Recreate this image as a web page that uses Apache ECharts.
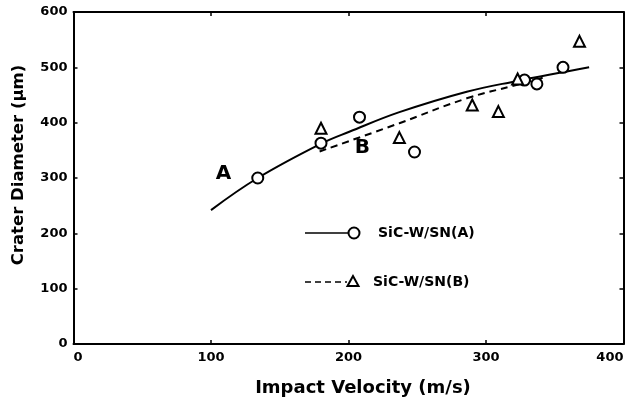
<!DOCTYPE html>
<html><head><meta charset="utf-8">
<script src="https://cdn.jsdelivr.net/npm/echarts@6/dist/echarts.min.js"></script>
<style>html,body{margin:0;padding:0;background:#fff}#c{width:627px;height:400px}</style>
</head><body><div id="c"></div>
<script>
// ---- data ----
const xTicks = [0, 100, 200, 300, 400];
const yTicks = [0, 100, 200, 300, 400, 500, 600];
const pointsA = [[134,300],[180,363],[208,410],[248,347],[328,477],[337,470],[356,500]];
const pointsB = [[180,390],[237,373],[290,432],[309,420],[323,479],[368,547]];
const curveA = [[100,242],[134,300],[180,362],[201,384],[237,419],[286,456],[322,475],[375,500]];
const curveB = [[179,348],[237,399],[286,444],[322,468],[344,483]];
const curveLabels = [[109,307,'A'],[210,354,'B']];
const legendNames = ['SiC-W/SN(A)', 'SiC-W/SN(B)'];
const xTitle = 'Impact Velocity (m/s)';
const yTitle = 'Crater Diameter (\u03bcm)';

// ---- chart ----
const FONT = 'DejaVu Sans';
const chart = echarts.init(document.getElementById('c'), null, {renderer: 'canvas'});
const axisLine = {show: true, onZero: false, lineStyle: {color: '#000', width: 2}};
const tick = {show: true, inside: true, length: 4, lineStyle: {color: '#000', width: 1.5}};
const tickLabel = {color: '#000', fontFamily: FONT, fontWeight: 'bold', fontSize: 13};

chart.setOption({
  animation: false,
  backgroundColor: '#fff',
  grid: {left: 73.5, right: 3.5, top: 12, bottom: 56, containLabel: false, outerBoundsMode: 'none'},
  xAxis: [
    {type: 'value', position: 'bottom', min: xTicks[0], max: xTicks[xTicks.length-1], interval: 100,
     axisLine: axisLine, axisTick: tick, splitLine: {show: false},
     axisLabel: Object.assign({margin: 7, alignMinLabel: 'left', alignMaxLabel: 'right'}, tickLabel),
     name: xTitle, nameLocation: 'middle', nameGap: 35,
     nameTextStyle: {color: '#000', fontFamily: FONT, fontWeight: 'bold', fontSize: 18, padding: [0,0,0,29]}},
    {type: 'value', position: 'top', min: xTicks[0], max: xTicks[xTicks.length-1], interval: 100,
     axisLine: axisLine, axisTick: tick, splitLine: {show: false}, axisLabel: {show: false}}
  ],
  yAxis: [
    {type: 'value', position: 'left', min: yTicks[0], max: yTicks[yTicks.length-1], interval: 100,
     axisLine: axisLine, axisTick: tick, splitLine: {show: false},
     axisLabel: Object.assign({margin: 6}, tickLabel),
     name: yTitle, nameLocation: 'middle', nameGap: 46,
     nameTextStyle: {color: '#000', fontFamily: FONT, fontWeight: 'bold', fontSize: 16.5, padding: [0,0,0,26]}},
    {type: 'value', position: 'right', min: yTicks[0], max: yTicks[yTicks.length-1], interval: 100,
     axisLine: axisLine, axisTick: tick, splitLine: {show: false}, axisLabel: {show: false}}
  ],
  series: [
    {name: legendNames[0] + ' fit', type: 'line', data: curveA, smooth: 0.4, showSymbol: false, symbol: 'none',
     lineStyle: {color: '#000', width: 2}, z: 2},
    {name: legendNames[1] + ' fit', type: 'line', data: curveB, smooth: 0.4, showSymbol: false, symbol: 'none',
     lineStyle: {color: '#000', width: 2, type: [7, 5]}, z: 2},
    {name: legendNames[0], type: 'scatter', data: pointsA, symbol: 'circle', symbolSize: 11,
     itemStyle: {color: '#fff', borderColor: '#000', borderWidth: 2, opacity: 1}, z: 3},
    {name: legendNames[1], type: 'scatter', data: pointsB, symbol: 'triangle', symbolSize: 11,
     itemStyle: {color: '#fff', borderColor: '#000', borderWidth: 2, opacity: 1}, z: 3},
    {name: 'labels', type: 'scatter', data: curveLabels, symbolSize: 1, silent: true,
     itemStyle: {color: 'rgba(0,0,0,0)', opacity: 1},
     label: {show: true, position: 'inside', formatter: p => p.data[2], color: '#000',
             fontFamily: FONT, fontWeight: 'bold', fontSize: 20}, z: 4}
  ],
  graphic: [
    {type: 'line', shape: {x1: 305, y1: 233, x2: 348, y2: 233}, style: {stroke: '#000', lineWidth: 1.5}},
    {type: 'circle', shape: {cx: 354, cy: 233, r: 5.5}, style: {fill: '#fff', stroke: '#000', lineWidth: 2}},
    {type: 'text', x: 378, y: 233, style: {text: legendNames[0], fill: '#000', font: 'bold 14px "DejaVu Sans"', verticalAlign: 'middle', align: 'left'}},
    {type: 'line', shape: {x1: 305, y1: 282, x2: 347, y2: 282}, style: {stroke: '#000', lineWidth: 1.5, lineDash: [6, 4]}},
    {type: 'polygon', shape: {points: [[353, 276], [347.5, 286], [358.5, 286]]}, style: {fill: '#fff', stroke: '#000', lineWidth: 2}},
    {type: 'text', x: 373, y: 282, style: {text: legendNames[1], fill: '#000', font: 'bold 14px "DejaVu Sans"', verticalAlign: 'middle', align: 'left'}}
  ]
});
</script>
</body></html>
